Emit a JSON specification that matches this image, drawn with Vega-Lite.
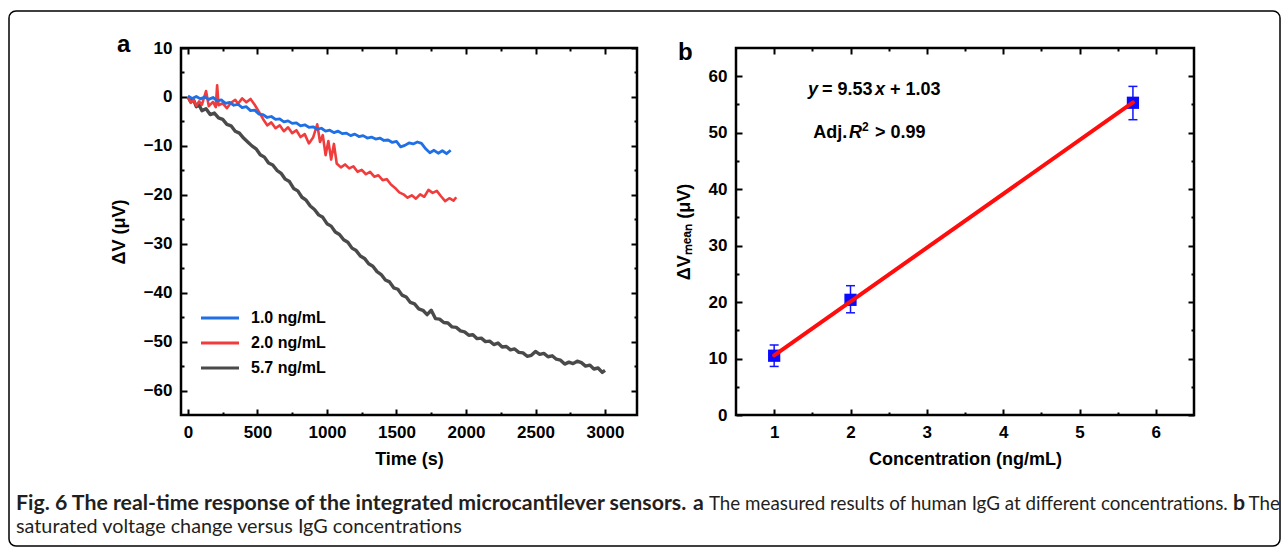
{
  "$schema": "https://vega.github.io/schema/vega-lite/v6.json",
  "background": "white",
  "padding": {"left": 8, "top": 10, "right": 0, "bottom": 0},
  "bounds": "flush",
  "spacing": 37,
  "config": {
    "view": {"stroke": "#000000", "strokeWidth": 2.5},
    "axis": {"domain": false, "grid": false, "labelFont": "Liberation Sans", "labelFontSize": 17, "labelFontWeight": "bold", "labelColor": "#000000", "labelPadding": 15, "labelFlush": false, "labelOverlap": false, "tickColor": "#000000", "tickWidth": 2, "tickSize": -6, "titleFont": "Liberation Sans", "titleFontSize": 18, "titleFontWeight": "bold", "titleColor": "#000000"},
    "axisX": {"titlePadding": 10},
    "axisY": {"titlePadding": 15},
    "title": {"font": "Liberation Sans", "fontSize": 24, "fontWeight": "bold", "color": "#000000", "anchor": "start", "frame": "group", "baseline": "alphabetic", "offset": -18}
  },
  "datasets": {
    "g": [{"t":0,"v":0.0},{"t":20,"v":-1.0},{"t":40,"v":-0.6},{"t":60,"v":-2.0},{"t":80,"v":-1.6},{"t":100,"v":-2.8},{"t":130,"v":-2.4},{"t":160,"v":-3.6},{"t":190,"v":-3.3},{"t":220,"v":-4.3},{"t":250,"v":-4.6},{"t":280,"v":-5.6},{"t":310,"v":-5.9},{"t":340,"v":-7.0},{"t":370,"v":-7.4},{"t":400,"v":-8.4},{"t":430,"v":-9.2},{"t":460,"v":-10.0},{"t":490,"v":-10.6},{"t":520,"v":-11.8},{"t":550,"v":-12.3},{"t":580,"v":-13.5},{"t":610,"v":-13.9},{"t":640,"v":-15.0},{"t":670,"v":-15.6},{"t":700,"v":-16.8},{"t":730,"v":-17.3},{"t":760,"v":-18.7},{"t":790,"v":-19.2},{"t":820,"v":-20.5},{"t":850,"v":-21.1},{"t":880,"v":-22.3},{"t":910,"v":-23.0},{"t":940,"v":-24.1},{"t":970,"v":-24.6},{"t":1000,"v":-25.9},{"t":1030,"v":-26.4},{"t":1060,"v":-27.6},{"t":1090,"v":-28.1},{"t":1120,"v":-29.2},{"t":1150,"v":-29.7},{"t":1180,"v":-30.9},{"t":1210,"v":-31.4},{"t":1240,"v":-32.5},{"t":1270,"v":-33.0},{"t":1300,"v":-34.1},{"t":1330,"v":-34.6},{"t":1360,"v":-35.7},{"t":1390,"v":-36.3},{"t":1420,"v":-37.4},{"t":1450,"v":-37.8},{"t":1480,"v":-39.0},{"t":1510,"v":-39.3},{"t":1540,"v":-40.5},{"t":1570,"v":-40.9},{"t":1600,"v":-42.0},{"t":1630,"v":-42.3},{"t":1660,"v":-43.3},{"t":1690,"v":-43.6},{"t":1720,"v":-44.5},{"t":1750,"v":-43.6},{"t":1780,"v":-45.3},{"t":1810,"v":-45.4},{"t":1840,"v":-46.1},{"t":1870,"v":-46.2},{"t":1900,"v":-47.0},{"t":1930,"v":-47.1},{"t":1960,"v":-47.8},{"t":1990,"v":-48.0},{"t":2020,"v":-48.7},{"t":2050,"v":-48.6},{"t":2080,"v":-49.4},{"t":2110,"v":-49.3},{"t":2140,"v":-50.0},{"t":2170,"v":-49.9},{"t":2200,"v":-50.6},{"t":2230,"v":-50.3},{"t":2260,"v":-51.1},{"t":2290,"v":-51.0},{"t":2320,"v":-51.7},{"t":2350,"v":-51.5},{"t":2380,"v":-52.2},{"t":2410,"v":-52.3},{"t":2440,"v":-53.0},{"t":2470,"v":-52.8},{"t":2500,"v":-52.0},{"t":2530,"v":-52.6},{"t":2560,"v":-52.4},{"t":2590,"v":-53.1},{"t":2620,"v":-52.9},{"t":2650,"v":-53.6},{"t":2680,"v":-53.8},{"t":2710,"v":-54.6},{"t":2740,"v":-54.2},{"t":2770,"v":-54.5},{"t":2800,"v":-54.0},{"t":2830,"v":-54.3},{"t":2860,"v":-55.0},{"t":2890,"v":-54.8},{"t":2920,"v":-55.6},{"t":2950,"v":-55.4},{"t":2980,"v":-56.3},{"t":3000,"v":-55.9}],
    "r": [{"t":0,"v":0.0},{"t":20,"v":-1.2},{"t":40,"v":-0.6},{"t":60,"v":-1.8},{"t":80,"v":-0.9},{"t":100,"v":-1.6},{"t":130,"v":1.2},{"t":150,"v":-1.9},{"t":180,"v":-1.0},{"t":200,"v":-2.1},{"t":210,"v":2.4},{"t":220,"v":-1.7},{"t":250,"v":-1.3},{"t":280,"v":-2.3},{"t":310,"v":-1.2},{"t":340,"v":-0.6},{"t":360,"v":-1.4},{"t":390,"v":-0.3},{"t":420,"v":-1.1},{"t":450,"v":-0.4},{"t":480,"v":-1.6},{"t":510,"v":-3.0},{"t":540,"v":-4.5},{"t":570,"v":-5.8},{"t":600,"v":-5.2},{"t":630,"v":-6.4},{"t":660,"v":-5.8},{"t":690,"v":-7.0},{"t":720,"v":-6.2},{"t":750,"v":-7.4},{"t":780,"v":-6.8},{"t":810,"v":-8.2},{"t":840,"v":-7.6},{"t":870,"v":-9.5},{"t":900,"v":-8.3},{"t":930,"v":-5.6},{"t":950,"v":-9.2},{"t":970,"v":-7.8},{"t":990,"v":-11.9},{"t":1010,"v":-9.0},{"t":1030,"v":-12.8},{"t":1050,"v":-9.6},{"t":1070,"v":-13.6},{"t":1100,"v":-14.4},{"t":1130,"v":-13.8},{"t":1160,"v":-14.6},{"t":1190,"v":-14.2},{"t":1220,"v":-15.3},{"t":1250,"v":-14.9},{"t":1280,"v":-15.8},{"t":1310,"v":-15.3},{"t":1340,"v":-16.3},{"t":1370,"v":-16.0},{"t":1400,"v":-17.0},{"t":1430,"v":-16.8},{"t":1460,"v":-17.9},{"t":1490,"v":-18.6},{"t":1520,"v":-19.5},{"t":1550,"v":-19.9},{"t":1580,"v":-20.6},{"t":1610,"v":-20.1},{"t":1640,"v":-20.8},{"t":1670,"v":-19.9},{"t":1700,"v":-20.4},{"t":1730,"v":-19.0},{"t":1760,"v":-19.6},{"t":1790,"v":-19.2},{"t":1820,"v":-20.3},{"t":1850,"v":-21.3},{"t":1880,"v":-20.7},{"t":1910,"v":-21.2},{"t":1930,"v":-20.5}],
    "bl": [{"t":0,"v":0.2},{"t":30,"v":-0.3},{"t":60,"v":0.1},{"t":90,"v":-0.4},{"t":120,"v":0.0},{"t":150,"v":-0.5},{"t":180,"v":-0.1},{"t":210,"v":-0.8},{"t":240,"v":-0.6},{"t":270,"v":-1.3},{"t":300,"v":-1.1},{"t":330,"v":-1.7},{"t":360,"v":-1.5},{"t":390,"v":-2.2},{"t":420,"v":-2.0},{"t":450,"v":-2.8},{"t":480,"v":-2.7},{"t":510,"v":-3.5},{"t":540,"v":-3.6},{"t":570,"v":-4.2},{"t":600,"v":-4.0},{"t":630,"v":-4.6},{"t":660,"v":-4.5},{"t":690,"v":-5.1},{"t":720,"v":-4.9},{"t":750,"v":-5.4},{"t":780,"v":-5.3},{"t":810,"v":-5.9},{"t":840,"v":-5.7},{"t":870,"v":-6.2},{"t":900,"v":-6.1},{"t":930,"v":-6.6},{"t":960,"v":-6.4},{"t":990,"v":-7.0},{"t":1020,"v":-6.8},{"t":1050,"v":-7.3},{"t":1080,"v":-7.0},{"t":1110,"v":-7.5},{"t":1140,"v":-7.4},{"t":1170,"v":-7.9},{"t":1200,"v":-7.6},{"t":1230,"v":-8.1},{"t":1260,"v":-7.9},{"t":1290,"v":-8.4},{"t":1320,"v":-8.2},{"t":1350,"v":-8.6},{"t":1380,"v":-8.4},{"t":1410,"v":-8.9},{"t":1440,"v":-8.8},{"t":1470,"v":-9.3},{"t":1500,"v":-9.1},{"t":1530,"v":-10.2},{"t":1560,"v":-9.9},{"t":1590,"v":-9.4},{"t":1620,"v":-9.6},{"t":1650,"v":-9.2},{"t":1680,"v":-9.5},{"t":1710,"v":-10.6},{"t":1740,"v":-11.4},{"t":1770,"v":-10.9},{"t":1800,"v":-11.5},{"t":1830,"v":-11.0},{"t":1860,"v":-11.6},{"t":1890,"v":-10.9}],
    "pts": [{"c":1,"m":10.5,"lo":8.6,"hi":12.4},{"c":2,"m":20.4,"lo":18.1,"hi":22.9},{"c":5.7,"m":55.3,"lo":52.3,"hi":58.2}],
    "fit": [{"c":1,"f":10.56},{"c":5.7,"f":55.35}],
    "ann": [{"x":1.4433,"y":57.56,"s":"y","st":"i"},{"x":1.6267,"y":57.56,"s":"= 9.53","st":"n"},{"x":2.3211,"y":57.56,"s":"x","st":"i"},{"x":2.5175,"y":57.56,"s":"+ 1.03","st":"n"},{"x":1.5128,"y":49.86,"s":"Adj.","st":"n"},{"x":1.9809,"y":49.86,"s":"R","st":"i"},{"x":2.1507,"y":51.0,"s":"2","st":"s"},{"x":2.3211,"y":49.86,"s":"> 0.99","st":"n"}],
    "cap": [{"x":0.55,"y":92.15,"s":"Fig. 6 The real-time response of the integrated microcantilever sensors.","w":"b"},{"x":53.82,"y":92.15,"s":"a","w":"b"},{"x":55.07,"y":92.15,"s":"The measured results of human IgG at different concentrations.","w":"n1"},{"x":96.3,"y":92.15,"s":"b","w":"b"},{"x":97.52,"y":92.15,"s":"The","w":"n1"},{"x":0.55,"y":96.45,"s":"saturated voltage change versus IgG concentrations","w":"n2"}]
  },
  "vconcat": [
    {
      "hconcat": [
        {
          "width": 1271,
          "height": 535,
          "view": {"stroke": "#000000", "strokeWidth": 1.5, "cornerRadius": 7},
          "data": {"name": "cap"},
          "encoding": {
            "x": {"field": "x", "type": "quantitative", "scale": {"domain": [0, 100]}, "axis": null},
            "y": {"field": "y", "type": "quantitative", "scale": {"domain": [0, 100], "reverse": true}, "axis": null},
            "text": {"field": "s"}
          },
          "layer": [
            {"transform": [{"filter": "datum.w == 'b'"}], "mark": {"type": "text", "align": "left", "baseline": "middle", "font": "Lato", "fontSize": 21.3, "fontWeight": "bold", "color": "#231f20", "clip": true}},
            {"transform": [{"filter": "datum.w == 'n1'"}], "mark": {"type": "text", "align": "left", "baseline": "middle", "font": "Lato", "fontSize": 18.8, "fontWeight": "normal", "color": "#231f20", "clip": true}},
            {"transform": [{"filter": "datum.w == 'n2'"}], "mark": {"type": "text", "align": "left", "baseline": "middle", "font": "Lato", "fontSize": 19.8, "fontWeight": "normal", "color": "#231f20", "clip": true}}
          ]
        }
      ]
    },
    {
      "bounds": "flush",
      "spacing": 99,
      "hconcat": [
        {"width": 73, "height": 367, "view": {"stroke": null}, "data": {"values": [{"k": 0}]}, "mark": {"type": "point", "opacity": 0}, "encoding": {}},
        {
          "width": 456,
          "height": 367,
          "title": {"text": "a", "dx": -64},
          "resolve": {"axis": {"x": "independent", "y": "independent"}},
          "layer": [
            {
              "data": {"name": "g"},
              "mark": {"type": "line", "strokeWidth": 3.4, "strokeJoin": "round"},
              "encoding": {
                "x": {"field": "t", "type": "quantitative", "scale": {"domain": [-50, 3230], "nice": false, "zero": false}, "axis": {"values": [0, 500, 1000, 1500, 2000, 2500, 3000], "format": "d", "title": "Time (s)"}},
                "y": {"field": "v", "type": "quantitative", "scale": {"domain": [-65, 10], "nice": false, "zero": false}, "axis": {"values": [10, 0, -10, -20, -30, -40, -50, -60], "format": "d", "title": "ΔV (μV)"}},
                "color": {"datum": "5.7 ng/mL", "type": "nominal", "scale": {"domain": ["1.0 ng/mL", "2.0 ng/mL", "5.7 ng/mL"], "range": ["#1f6fe5", "#f03c3c", "#4a4a4a"]}, "legend": {"orient": "none", "legendX": 200, "legendY": 296, "title": null, "symbolType": "M-2,0H2", "symbolSize": 361, "symbolStrokeWidth": 3, "labelFont": "Liberation Sans", "labelFontSize": 16, "labelFontWeight": "bold", "labelColor": "#000000", "labelOffset": 20, "rowPadding": 6, "padding": 0}}
              }
            },
            {
              "data": {"name": "r"},
              "mark": {"type": "line", "strokeWidth": 2.6, "strokeJoin": "round"},
              "encoding": {
                "x": {"field": "t", "type": "quantitative", "scale": {"domain": [-50, 3230], "nice": false, "zero": false}, "axis": null},
                "y": {"field": "v", "type": "quantitative", "scale": {"domain": [-65, 10], "nice": false, "zero": false}, "axis": null},
                "color": {"datum": "2.0 ng/mL", "type": "nominal"}
              }
            },
            {
              "data": {"name": "bl"},
              "mark": {"type": "line", "strokeWidth": 2.8, "strokeJoin": "round"},
              "encoding": {
                "x": {"field": "t", "type": "quantitative", "scale": {"domain": [-50, 3230], "nice": false, "zero": false}, "axis": null},
                "y": {"field": "v", "type": "quantitative", "scale": {"domain": [-65, 10], "nice": false, "zero": false}, "axis": null},
                "color": {"datum": "1.0 ng/mL", "type": "nominal"}
              }
            },
            {
              "data": {"values": [{"t": 0, "v": 0}]},
              "mark": {"type": "point", "opacity": 0},
              "encoding": {
                "x": {"field": "t", "type": "quantitative", "scale": {"domain": [-50, 3230], "nice": false, "zero": false}, "axis": {"orient": "top", "values": [0, 500, 1000, 1500, 2000, 2500, 3000], "labels": false, "title": null}},
                "y": {"field": "v", "type": "quantitative", "scale": {"domain": [-65, 10], "nice": false, "zero": false}, "axis": {"orient": "right", "values": [10, 0, -10, -20, -30, -40, -50, -60], "labels": false, "title": null}}
              }
            },
            {
              "data": {"values": [{"t": 0, "v": 0}]},
              "mark": {"type": "point", "opacity": 0},
              "encoding": {
                "x": {"field": "t", "type": "quantitative", "scale": {"domain": [-50, 3230], "nice": false, "zero": false}, "axis": {"orient": "bottom", "values": [250, 750, 1250, 1750, 2250, 2750], "labels": false, "title": null, "tickSize": -3}},
                "y": {"field": "v", "type": "quantitative", "scale": {"domain": [-65, 10], "nice": false, "zero": false}, "axis": {"orient": "left", "values": [5, -5, -15, -25, -35, -45, -55], "labels": false, "title": null, "tickSize": -3}}
              }
            },
            {
              "data": {"values": [{"t": 0, "v": 0}]},
              "mark": {"type": "point", "opacity": 0},
              "encoding": {
                "x": {"field": "t", "type": "quantitative", "scale": {"domain": [-50, 3230], "nice": false, "zero": false}, "axis": {"orient": "top", "values": [250, 750, 1250, 1750, 2250, 2750], "labels": false, "title": null, "tickSize": -3}},
                "y": {"field": "v", "type": "quantitative", "scale": {"domain": [-65, 10], "nice": false, "zero": false}, "axis": {"orient": "right", "values": [5, -5, -15, -25, -35, -45, -55], "labels": false, "title": null, "tickSize": -3}}
              }
            }
          ]
        },
        {
          "width": 458,
          "height": 367,
          "title": {"text": "b", "dx": -58},
          "resolve": {"axis": {"x": "independent", "y": "independent"}},
          "layer": [
            {
              "data": {"name": "pts"},
              "mark": {"type": "rule", "color": "#1414ff", "strokeWidth": 1.5},
              "encoding": {
                "x": {"field": "c", "type": "quantitative", "scale": {"domain": [0.5, 6.5], "nice": false, "zero": false}, "axis": null},
                "y": {"field": "lo", "type": "quantitative", "scale": {"domain": [0, 65], "nice": false, "zero": false}, "axis": null},
                "y2": {"field": "hi"}
              }
            },
            {
              "data": {"name": "pts"},
              "mark": {"type": "tick", "orient": "horizontal", "color": "#1414ff", "size": 9, "thickness": 1.5, "opacity": 1},
              "encoding": {
                "x": {"field": "c", "type": "quantitative", "scale": {"domain": [0.5, 6.5], "nice": false, "zero": false}, "axis": null},
                "y": {"field": "hi", "type": "quantitative", "scale": {"domain": [0, 65], "nice": false, "zero": false}, "axis": null}
              }
            },
            {
              "data": {"name": "pts"},
              "mark": {"type": "tick", "orient": "horizontal", "color": "#1414ff", "size": 9, "thickness": 1.5, "opacity": 1},
              "encoding": {
                "x": {"field": "c", "type": "quantitative", "scale": {"domain": [0.5, 6.5], "nice": false, "zero": false}, "axis": null},
                "y": {"field": "lo", "type": "quantitative", "scale": {"domain": [0, 65], "nice": false, "zero": false}, "axis": null}
              }
            },
            {
              "data": {"name": "pts"},
              "mark": {"type": "point", "shape": "square", "filled": true, "size": 150, "color": "#0a0aff", "opacity": 1},
              "encoding": {
                "x": {"field": "c", "type": "quantitative", "scale": {"domain": [0.5, 6.5], "nice": false, "zero": false}, "axis": {"values": [1, 2, 3, 4, 5, 6], "format": "d", "title": "Concentration (ng/mL)"}},
                "y": {"field": "m", "type": "quantitative", "scale": {"domain": [0, 65], "nice": false, "zero": false}, "axis": {"values": [0, 10, 20, 30, 40, 50, 60], "format": "d", "title": "ΔVₘₑₐₙ (μV)"}}
              }
            },
            {
              "data": {"name": "fit"},
              "mark": {"type": "line", "color": "#ff0d0d", "strokeWidth": 4, "strokeCap": "round"},
              "encoding": {
                "x": {"field": "c", "type": "quantitative", "scale": {"domain": [0.5, 6.5], "nice": false, "zero": false}, "axis": null},
                "y": {"field": "f", "type": "quantitative", "scale": {"domain": [0, 65], "nice": false, "zero": false}, "axis": null}
              }
            },
            {
              "data": {"name": "ann"},
              "transform": [{"filter": "datum.st == 'i'"}],
              "mark": {"type": "text", "align": "left", "baseline": "middle", "font": "Liberation Sans", "fontSize": 18, "fontWeight": "bold", "fontStyle": "italic", "color": "#000000"},
              "encoding": {
                "x": {"field": "x", "type": "quantitative", "scale": {"domain": [0.5, 6.5], "nice": false, "zero": false}, "axis": null},
                "y": {"field": "y", "type": "quantitative", "scale": {"domain": [0, 65], "nice": false, "zero": false}, "axis": null},
                "text": {"field": "s"}
              }
            },
            {
              "data": {"name": "ann"},
              "transform": [{"filter": "datum.st == 'n'"}],
              "mark": {"type": "text", "align": "left", "baseline": "middle", "font": "Liberation Sans", "fontSize": 18, "fontWeight": "bold", "color": "#000000"},
              "encoding": {
                "x": {"field": "x", "type": "quantitative", "scale": {"domain": [0.5, 6.5], "nice": false, "zero": false}, "axis": null},
                "y": {"field": "y", "type": "quantitative", "scale": {"domain": [0, 65], "nice": false, "zero": false}, "axis": null},
                "text": {"field": "s"}
              }
            },
            {
              "data": {"name": "ann"},
              "transform": [{"filter": "datum.st == 's'"}],
              "mark": {"type": "text", "align": "left", "baseline": "middle", "font": "Liberation Sans", "fontSize": 12, "fontWeight": "bold", "color": "#000000"},
              "encoding": {
                "x": {"field": "x", "type": "quantitative", "scale": {"domain": [0.5, 6.5], "nice": false, "zero": false}, "axis": null},
                "y": {"field": "y", "type": "quantitative", "scale": {"domain": [0, 65], "nice": false, "zero": false}, "axis": null},
                "text": {"field": "s"}
              }
            },
            {
              "data": {"values": [{"c": 1, "m": 0}]},
              "mark": {"type": "point", "opacity": 0},
              "encoding": {
                "x": {"field": "c", "type": "quantitative", "scale": {"domain": [0.5, 6.5], "nice": false, "zero": false}, "axis": {"orient": "top", "values": [1, 2, 3, 4, 5, 6], "labels": false, "title": null}},
                "y": {"field": "m", "type": "quantitative", "scale": {"domain": [0, 65], "nice": false, "zero": false}, "axis": {"orient": "right", "values": [0, 10, 20, 30, 40, 50, 60], "labels": false, "title": null}}
              }
            },
            {
              "data": {"values": [{"c": 1, "m": 0}]},
              "mark": {"type": "point", "opacity": 0},
              "encoding": {
                "x": {"field": "c", "type": "quantitative", "scale": {"domain": [0.5, 6.5], "nice": false, "zero": false}, "axis": {"orient": "bottom", "values": [1.5, 2.5, 3.5, 4.5, 5.5], "labels": false, "title": null, "tickSize": -3}},
                "y": {"field": "m", "type": "quantitative", "scale": {"domain": [0, 65], "nice": false, "zero": false}, "axis": {"orient": "left", "values": [5, 15, 25, 35, 45, 55], "labels": false, "title": null, "tickSize": -3}}
              }
            },
            {
              "data": {"values": [{"c": 1, "m": 0}]},
              "mark": {"type": "point", "opacity": 0},
              "encoding": {
                "x": {"field": "c", "type": "quantitative", "scale": {"domain": [0.5, 6.5], "nice": false, "zero": false}, "axis": {"orient": "top", "values": [1.5, 2.5, 3.5, 4.5, 5.5], "labels": false, "title": null, "tickSize": -3}},
                "y": {"field": "m", "type": "quantitative", "scale": {"domain": [0, 65], "nice": false, "zero": false}, "axis": {"orient": "right", "values": [5, 15, 25, 35, 45, 55], "labels": false, "title": null, "tickSize": -3}}
              }
            }
          ]
        }
      ]
    }
  ]
}
